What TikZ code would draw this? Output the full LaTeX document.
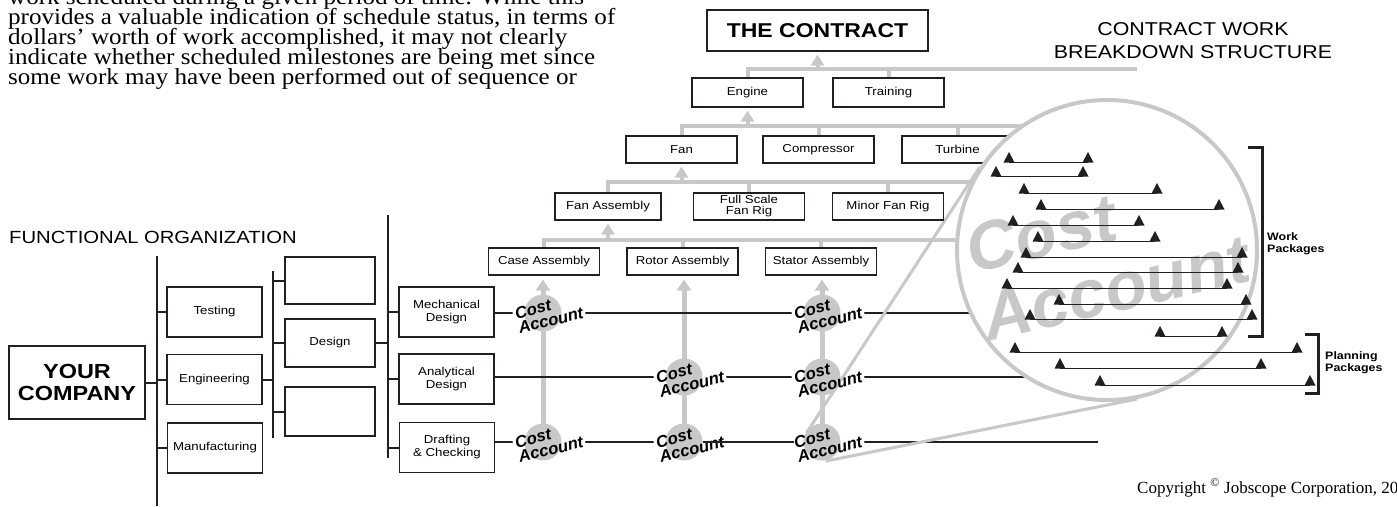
\documentclass[tikz,border=0pt]{standalone}
\usepackage{fontspec}
\setmainfont{Liberation Serif}
\newfontfamily\bookfont{Liberation Serif}[FakeStretch=1.09]
\newfontfamily\hv{Liberation Sans}[FakeStretch=1.15]
\newfontfamily\hvplain{Liberation Sans}
\usetikzlibrary{arrows.meta,backgrounds,positioning}
\definecolor{acgray}{RGB}{200,200,200}
\definecolor{ink}{RGB}{35,31,32}

\begin{document}
\begin{tikzpicture}[x=1pt,y=-1pt,
  para/.style={anchor=base west,inner sep=0pt,font=\bookfont\fontsize{23}{20}\selectfont},
  orgbox/.style={draw=ink,line width=1.2pt,fill=white,inner sep=0pt,align=center,minimum width=95pt,minimum height=50pt,font=\hv\fontsize{11.5}{13}\selectfont},
  wbsbox/.style={draw=ink,line width=1.2pt,fill=white,inner sep=0pt,align=center,minimum width=111pt,minimum height=28pt,font=\hv\fontsize{11.5}{11}\selectfont},
  orgline/.style={ink,line width=2pt},
  rowline/.style={ink,line width=2.6pt},
  wbsline/.style={acgray,line width=4pt},
  upline/.style={wbsline,-{Triangle[width=13pt,length=11pt]},shorten >=3pt},
  column/.style={acgray,line width=5pt,-{Triangle[width=14pt,length=11pt]},shorten >=4pt},
  lensline/.style={acgray,line width=3pt},
  cadot/.style={circle,fill=acgray,minimum size=37pt,inner sep=0pt},
  calabel/.style={rotate=14,align=left,inner sep=2pt,font=\hvplain\bfseries\itshape\fontsize{16.5}{15}\selectfont},
  wpline/.style={ink,line width=1pt},
  bracket/.style={ink,line width=3pt},
  title/.style={align=center,inner sep=0pt,font=\hv\fontsize{18.6}{23}\selectfont},
  pklabel/.style={anchor=west,align=left,inner sep=0pt,font=\hv\bfseries\fontsize{10.8}{12}\selectfont}
]
\useasboundingbox (0,0) rectangle (1397,506);
\clip (0,0) rectangle (1397,506);

% page text
\node[para] (par1) at (8,5) {work scheduled during a given period of time. While this};
\node[para] (par2) at (8,24.8) {provides a valuable indication of schedule status, in terms of};
\node[para] (par3) at (8,44.6) {dollars’ worth of work accomplished, it may not clearly};
\node[para] (par4) at (8,64.4) {indicate whether scheduled milestones are being met since};
\node[para] (par5) at (8,84.2) {some work may have been performed out of sequence or};
\node[anchor=base west,inner sep=0pt,font=\fontsize{17}{20}\selectfont] (copy) at (1137,493) {Copyright \textsuperscript{©} Jobscope Corporation, 20};

% functional organization
\node[title,anchor=west,font=\hv\fontsize{17.6}{20}\selectfont] (fotitle) at (9,237) {FUNCTIONAL ORGANIZATION};
\node[orgbox,minimum width=136pt,minimum height=73pt,font=\hv\bfseries\fontsize{20.4}{22}\selectfont] (company) at (77,382.5) {YOUR\\COMPANY};
\node[orgbox] (testing) at (214.5,312) {Testing};
\node[orgbox] (engineering) at (214.5,379.5) {Engineering};
\node[orgbox] (manufacturing) at (215,448) {Manufacturing};
\node[orgbox,minimum width=90pt,minimum height=47pt] (blankA) at (330,280.5) {};
\node[orgbox,minimum width=90pt,minimum height=48pt] (design) at (330,343) {Design};
\node[orgbox,minimum width=90pt,minimum height=49pt] (blankB) at (330,411.5) {};
\node[orgbox] (mech) at (446.5,312) {Mechanical\\Design};
\node[orgbox] (analyt) at (446.5,379) {Analytical\\Design};
\node[orgbox] (drafting) at (447,447.5) {Drafting\\\& Checking};

\coordinate (busAtop) at (157,256);
\coordinate (busAbot) at (157,506);
\coordinate (busBtop) at (273,271);
\coordinate (busBbot) at (273,438);
\coordinate (busCtop) at (388,215);
\coordinate (busCbot) at (388,458);
\draw[orgline] (busAtop) -- (busAbot);
\draw[orgline] (company.east) -- (company.east -| busAtop);
\draw[orgline] (testing.west) -- (testing.west -| busAtop);
\draw[orgline] (engineering.west) -- (engineering.west -| busAtop);
\draw[orgline] (manufacturing.west) -- (manufacturing.west -| busAtop);
\draw[orgline] (busBtop) -- (busBbot);
\draw[orgline] (engineering.east) -- (engineering.east -| busBtop);
\draw[orgline] (blankA.west) -- (blankA.west -| busBtop);
\draw[orgline] (design.west) -- (design.west -| busBtop);
\draw[orgline] (blankB.west) -- (blankB.west -| busBtop);
\draw[orgline] (busCtop) -- (busCbot);
\draw[orgline] (design.east) -- (design.east -| busCtop);
\draw[orgline] (mech.west) -- (mech.west -| busCtop);
\draw[orgline] (analyt.west) -- (analyt.west -| busCtop);
\draw[orgline] (drafting.west) -- (drafting.west -| busCtop);

% contract work breakdown structure
\node[wbsbox,minimum width=221pt,minimum height=41pt,font=\hv\bfseries\fontsize{20}{22}\selectfont] (contract) at (817.5,30.5) {THE CONTRACT};
\node[title] (cwbs) at (1193,40.5) {CONTRACT WORK\\BREAKDOWN STRUCTURE};
\node[wbsbox,minimum height=29pt] (engine) at (747.5,92.5) {Engine};
\node[wbsbox,minimum height=29pt] (training) at (888.5,92.5) {Training};
\node[wbsbox,minimum height=27pt] (fan) at (681.5,149.5) {Fan};
\node[wbsbox,minimum height=27pt] (compressor) at (818.5,149.5) {Compressor};
\node[wbsbox,minimum height=27pt] (turbine) at (957.5,149.5) {Turbine};
\node[wbsbox,minimum width=106pt,minimum height=27pt] (fanasm) at (608,206.5) {Fan Assembly};
\node[wbsbox,minimum height=27pt] (fullrig) at (749,206.5) {Full Scale\\Fan Rig};
\node[wbsbox,minimum height=27pt] (minorrig) at (888,206.5) {Minor Fan Rig};
\node[wbsbox,minimum height=27pt] (caseasm) at (544,261.5) {Case Assembly};
\node[wbsbox,minimum height=27pt] (rotorasm) at (682.5,261.5) {Rotor Assembly};
\node[wbsbox,minimum height=27pt] (statorasm) at (821,261.5) {Stator Assembly};

% cost accounts
\coordinate (p11) at (543,313);
\coordinate (p13) at (822,313);
\coordinate (p22) at (684,377);
\coordinate (p23) at (822,377);
\coordinate (p31) at (543,442);
\coordinate (p32) at (684,442);
\coordinate (p33) at (822,442);
\node[calabel] (cal11) at ([xshift=6pt]p11) {Cost\\Account};
\node[calabel] (cal13) at ([xshift=6pt]p13) {Cost\\Account};
\node[calabel] (cal22) at ([xshift=6pt]p22) {Cost\\Account};
\node[calabel] (cal23) at ([xshift=6pt]p23) {Cost\\Account};
\node[calabel] (cal31) at ([xshift=6pt]p31) {Cost\\Account};
\node[calabel] (cal32) at ([xshift=6pt]p32) {Cost\\Account};
\node[calabel] (cal33) at ([xshift=6pt]p33) {Cost\\Account};

\coordinate (bus1) at (1137,69);
\coordinate (bus2) at (1040,126);
\coordinate (bus3) at (1000,182);
\coordinate (bus4) at (1000,240);
\coordinate (row1end) at (1000,313);
\coordinate (row2end) at (1050,377);
\coordinate (row3end) at (1098,442);
\coordinate (lensA) at (806.5,432.9);
\coordinate (lensB) at (979.6,167.2);
\coordinate (lensC) at (825.6,461.1);
\coordinate (lensD) at (1136.8,399.1);

\begin{scope}[on background layer]
  \draw[wbsline] (engine.north) |- (bus1);
  \draw[wbsline] (training.north) -- (training.north |- bus1);
  \draw[upline] (contract.south |- bus1) -- (contract.south);
  \draw[wbsline] (fan.north) |- (bus2);
  \draw[wbsline] (compressor.north) -- (compressor.north |- bus2);
  \draw[wbsline] (turbine.north) -- (turbine.north |- bus2);
  \draw[upline] (engine.south |- bus2) -- (engine.south);
  \draw[wbsline] (fanasm.north) |- (bus3);
  \draw[wbsline] (fullrig.north) -- (fullrig.north |- bus3);
  \draw[wbsline] (minorrig.north) -- (minorrig.north |- bus3);
  \draw[upline] (fan.south |- bus3) -- (fan.south);
  \draw[wbsline] (caseasm.north) |- (bus4);
  \draw[wbsline] (rotorasm.north) -- (rotorasm.north |- bus4);
  \draw[wbsline] (statorasm.north) -- (statorasm.north |- bus4);
  \draw[upline] (fanasm.south |- bus4) -- (fanasm.south);
  % columns
  \draw[column] (p31) -- (p31 |- caseasm.south);
  \draw[column] (p32) -- (p32 |- rotorasm.south);
  \draw[column] (p33) -- (p33 |- statorasm.south);
  % rows
  \draw[rowline] (mech.east |- p11) -- (row1end);
  \draw[rowline] (analyt.east |- p22) -- (row2end);
  \draw[rowline] (drafting.east |- p31) -- (row3end);
  \foreach \l in {cal11,cal13,cal22,cal23,cal31,cal32,cal33}
    \fill[white] (\l.south west) -- (\l.south east) -- (\l.north east) -- (\l.north west) -- cycle;
  \foreach \c in {11,13,22,23,31,32,33}
    \node[cadot] (ca\c) at (p\c) {};
  % magnifier
  \draw[lensline] (lensA) -- (lensB);
  \draw[lensline] (lensC) -- (lensD);
\end{scope}
\draw[rowline] (ca32.east) -- (ca32.east -| cal33.west);

% cost account close-up
\node[circle,draw=acgray,line width=4pt,fill=white,minimum size=300pt,inner sep=0pt] (lens) at (1107,250) {};
\node[rotate=13,align=left,inner sep=0pt,text=acgray,font=\hvplain\bfseries\itshape\fontsize{68}{70}\selectfont] (bigca) at (1108,254) {Cost\\Account};
\foreach \y/\a/\b in {162/1009/1088,176/996/1083,193/1024/1157,209/1041/1219,225/1013/1139,
    241/1038/1155,257/1026/1242,272/1018/1238,288/1007/1227,304/1059/1246,319/1030/1252,
    336/1160/1222,352/1015/1297,368/1060/1261,385/1100/1310}{
  \draw[wpline] (\a,\y) -- (\b,\y);
  \fill[ink] (\a-5.5,\y+0.5) -- (\a+5.5,\y+0.5) -- (\a,\y-10) -- cycle;
  \fill[ink] (\b-5.5,\y+0.5) -- (\b+5.5,\y+0.5) -- (\b,\y-10) -- cycle;
}
\draw[bracket] (1248,147) -- (1262,147) -- (1262,336) -- (1248,336);
\node[pklabel] (wplabel) at (1267,244) {Work\\Packages};
\draw[bracket] (1305,334) -- (1318,334) -- (1318,393) -- (1305,393);
\node[pklabel] (pplabel) at (1325,363) {Planning\\Packages};
\end{tikzpicture}
\end{document}
